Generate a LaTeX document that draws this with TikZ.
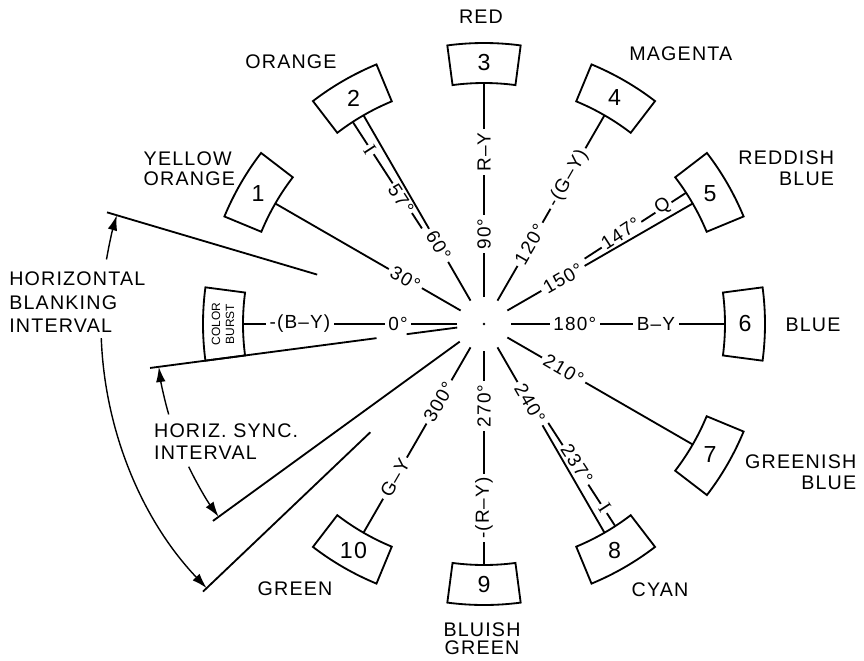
\documentclass[tikz,border=0pt]{standalone}
\usepackage{fontspec}
\setmainfont{Liberation Sans}[LetterSpace=6]
\newfontfamily\serifI{Liberation Serif}
\usetikzlibrary{arrows.meta}

\begin{document}
\begin{tikzpicture}[line width=1.3pt,
        hue/.style={font=\fontsize{14}{14.5}\selectfont, inner sep=0pt, align=center},
        spk/.style={font=\fontsize{13.5}{14.5}\selectfont, fill=white, inner sep=2.5pt},
        num/.style={font=\fontsize{16.5}{18}\selectfont, inner sep=0pt},
        span/.style={line width=1pt, -{Latex[length=3.8mm,width=2.4mm]}}]
        \useasboundingbox (-12.1,-8.4) rectangle (9.5,8.1);

        \coordinate (c) at (0,0);
        \fill (c) circle (0.035);

        \draw (142.5:6.025) arc[start angle=142.5,end angle=157.5,radius=6.025] -- (157.5:7.025) arc[start angle=157.5,end angle=142.5,radius=7.025] -- cycle;
        \draw (112.5:6.025) arc[start angle=112.5,end angle=127.5,radius=6.025] -- (127.5:7.025) arc[start angle=127.5,end angle=112.5,radius=7.025] -- cycle;
        \draw (82.5:6.025) arc[start angle=82.5,end angle=97.5,radius=6.025] -- (97.5:7.025) arc[start angle=97.5,end angle=82.5,radius=7.025] -- cycle;
        \draw (52.5:6.025) arc[start angle=52.5,end angle=67.5,radius=6.025] -- (67.5:7.025) arc[start angle=67.5,end angle=52.5,radius=7.025] -- cycle;
        \draw (22.5:6.025) arc[start angle=22.5,end angle=37.5,radius=6.025] -- (37.5:7.025) arc[start angle=37.5,end angle=22.5,radius=7.025] -- cycle;
        \draw (-7.5:6.025) arc[start angle=-7.5,end angle=7.5,radius=6.025] -- (7.5:7.025) arc[start angle=7.5,end angle=-7.5,radius=7.025] -- cycle;
        \draw (-37.5:6.025) arc[start angle=-37.5,end angle=-22.5,radius=6.025] -- (-22.5:7.025) arc[start angle=-22.5,end angle=-37.5,radius=7.025] -- cycle;
        \draw (-67.5:6.025) arc[start angle=-67.5,end angle=-52.5,radius=6.025] -- (-52.5:7.025) arc[start angle=-52.5,end angle=-67.5,radius=7.025] -- cycle;
        \draw (-97.5:6.025) arc[start angle=-97.5,end angle=-82.5,radius=6.025] -- (-82.5:7.025) arc[start angle=-82.5,end angle=-97.5,radius=7.025] -- cycle;
        \draw (-127.5:6.025) arc[start angle=-127.5,end angle=-112.5,radius=6.025] -- (-112.5:7.025) arc[start angle=-112.5,end angle=-127.5,radius=7.025] -- cycle;
        \draw (172.5:6.025) arc[start angle=172.5,end angle=187.5,radius=6.025] -- (187.5:7.025) arc[start angle=187.5,end angle=172.5,radius=7.025] -- cycle;

        \node[num] (n1) at (150:6.525) {1};
        \node[num] (n2) at (120:6.525) {2};
        \node[num] (n3) at (90:6.525) {3};
        \node[num] (n4) at (60:6.525) {4};
        \node[num] (n5) at (30:6.525) {5};
        \node[num] (n6) at (0:6.525) {6};
        \node[num] (n7) at (-30:6.525) {7};
        \node[num] (n8) at (-60:6.525) {8};
        \node[num] (n9) at (-90:6.525) {9};
        \node[num] (n10) at (-120:6.525) {10};
        \node[font=\fontsize{8.5}{10}\selectfont\addfontfeature{LetterSpace=0}, rotate=90, align=center, inner sep=0pt] (burst) at (180:6.525) {COLOR\\BURST};

        \coordinate (in0) at (180:0.675);
        \coordinate (out0) at (180:6.025);
        \draw (in0) -- (out0);
        \node[spk] (deg0) at (180:2.15) {0°};
        \node[spk] (sig0) at (180:4.6) {-(B–Y)};

        \coordinate (in30) at (150:0.675);
        \coordinate (out30) at (150:6.025);
        \draw (in30) -- (out30);
        \node[spk, rotate=-30] (deg30) at (150:2.27) {30°};

        \coordinate (in57) at (123:2.85);
        \coordinate (out57) at (123:6.025);
        \draw (in57) -- (out57);
        \node[spk, rotate=-57, inner sep=1.5pt] (deg57) at (123.6:3.75) {57°};
        \node[spk, rotate=-57, inner sep=1.5pt, font=\serifI\fontsize{14}{15}\selectfont] (sig57) at (123.3:5.2) {I};

        \coordinate (in60) at (120:0.675);
        \coordinate (out60) at (120:6.025);
        \draw (in60) -- (out60);
        \node[spk, rotate=-60] (deg60) at (120:2.27) {60°};

        \coordinate (in90) at (90:0.675);
        \coordinate (out90) at (90:6.025);
        \draw (in90) -- (out90);
        \node[spk, rotate=90] (deg90) at (90:2.25) {90°};
        \node[spk, rotate=90] (sig90) at (90:4.3) {R–Y};

        \coordinate (in120) at (60:0.675);
        \coordinate (out120) at (60:6.025);
        \draw (in120) -- (out120);
        \node[spk, rotate=60] (deg120) at (60:2.3) {120°};
        \node[spk, rotate=60] (sig120) at (60:4.2) {-(G–Y)};

        \coordinate (in147) at (33:3.0);
        \coordinate (out147) at (33:6.025);
        \draw (in147) -- (out147);
        \node[spk, rotate=33, inner sep=1.5pt] (deg147) at (33.6:4.1) {147°};
        \node[spk, rotate=33, inner sep=1.5pt] (sig147) at (33.3:5.35) {Q};

        \coordinate (in150) at (30:0.675);
        \coordinate (out150) at (30:6.025);
        \draw (in150) -- (out150);
        \node[spk, rotate=30] (deg150) at (30:2.28) {150°};

        \coordinate (in180) at (0:0.675);
        \coordinate (out180) at (0:6.025);
        \draw (in180) -- (out180);
        \node[spk] (deg180) at (0:2.27) {180°};
        \node[spk] (sig180) at (0:4.3) {B–Y};

        \coordinate (in210) at (-30:0.675);
        \coordinate (out210) at (-30:6.025);
        \draw (in210) -- (out210);
        \node[spk, rotate=-30] (deg210) at (-30:2.3) {210°};

        \coordinate (in237) at (-57:2.95);
        \coordinate (out237) at (-57:6.025);
        \draw (in237) -- (out237);
        \node[spk, rotate=-57, inner sep=1.5pt] (deg237) at (-56.4:4.2) {237°};
        \node[spk, rotate=-57, inner sep=1.5pt, font=\serifI\fontsize{14}{15}\selectfont] (sig237) at (-56.7:5.5) {I};

        \coordinate (in240) at (-60:0.675);
        \coordinate (out240) at (-60:6.025);
        \draw (in240) -- (out240);
        \node[spk, rotate=-60] (deg240) at (-60:2.3) {240°};

        \coordinate (in270) at (-90:0.675);
        \coordinate (out270) at (-90:6.025);
        \draw (in270) -- (out270);
        \node[spk, rotate=90] (deg270) at (-90:2.05) {270°};
        \node[spk, rotate=90] (sig270) at (-90:4.6) {-(R–Y)};

        \coordinate (in300) at (-120:0.675);
        \coordinate (out300) at (-120:6.025);
        \draw (in300) -- (out300);
        \node[spk, rotate=60] (deg300) at (-120:2.25) {300°};
        \node[spk, rotate=60] (sig300) at (-120:4.45) {G–Y};

        \coordinate (hs1) at (187.5:0.675);
        \coordinate (hs2) at (187.5:1.95);
        \coordinate (hs3) at (187.5:2.71);
        \coordinate (hs4) at (187.5:8.42);
        \coordinate (hs5) at (216:0.75);
        \coordinate (hs6) at (216:8.375);
        \draw (hs1) -- (hs2);
        \draw (hs3) -- (hs4);
        \draw (hs5) -- (hs6);

        \coordinate (bk1) at (163.5:4.35);
        \coordinate (bk2) at (163.5:9.83);
        \coordinate (bk3) at (223.6:3.925);
        \coordinate (bk4) at (223.6:9.7);
        \draw (bk1) -- (bk2);
        \draw (bk3) -- (bk4);

        \node[hue, anchor=west, align=left, font=\fontsize{14}{16.6}\selectfont] (blank) at (-11.89,0.54) {HORIZONTAL\\BLANKING\\INTERVAL};
        \coordinate (bka) at (170.3:9.575);
        \coordinate (bkb) at (182.1:9.575);
        \draw[span] (bka) arc[start angle=170.3,end angle=163.5,radius=9.575];
        \draw[span] (bkb) arc[start angle=182.1,end angle=223.6,radius=9.575];

        \node[hue, anchor=west, align=left, font=\fontsize{14}{15.4}\selectfont] (sync) at (-8.27,-2.94) {HORIZ. SYNC.\\INTERVAL};
        \coordinate (hsa) at (196:8.2);
        \coordinate (hsb) at (205.8:8.2);
        \draw[span] (hsa) arc[start angle=196,end angle=187.5,radius=8.2];
        \draw[span] (hsb) arc[start angle=205.8,end angle=216,radius=8.2];

        \node[hue] (red) at (-0.075,7.675) {RED};
        \node[hue] (orange) at (-4.825,6.55) {ORANGE};
        \node[hue] (magenta) at (4.92,6.76) {MAGENTA};
        \node[hue, anchor=west, align=left] (yelor) at (-8.53,3.88) {YELLOW\\ORANGE};
        \node[hue, anchor=east, align=right] (redblue) at (8.775,3.89) {REDDISH\\BLUE};
        \node[hue] (blue) at (8.225,-0.01) {BLUE};
        \node[hue, anchor=east, align=right] (grblue) at (9.33,-3.71) {GREENISH\\BLUE};
        \node[hue] (cyan) at (4.4,-6.65) {CYAN};
        \node[hue, font=\fontsize{14}{13}\selectfont] (blgreen) at (-0.05,-7.86) {BLUISH\\GREEN};
        \node[hue] (green) at (-4.725,-6.625) {GREEN};
    \end{tikzpicture}
\end{document}
